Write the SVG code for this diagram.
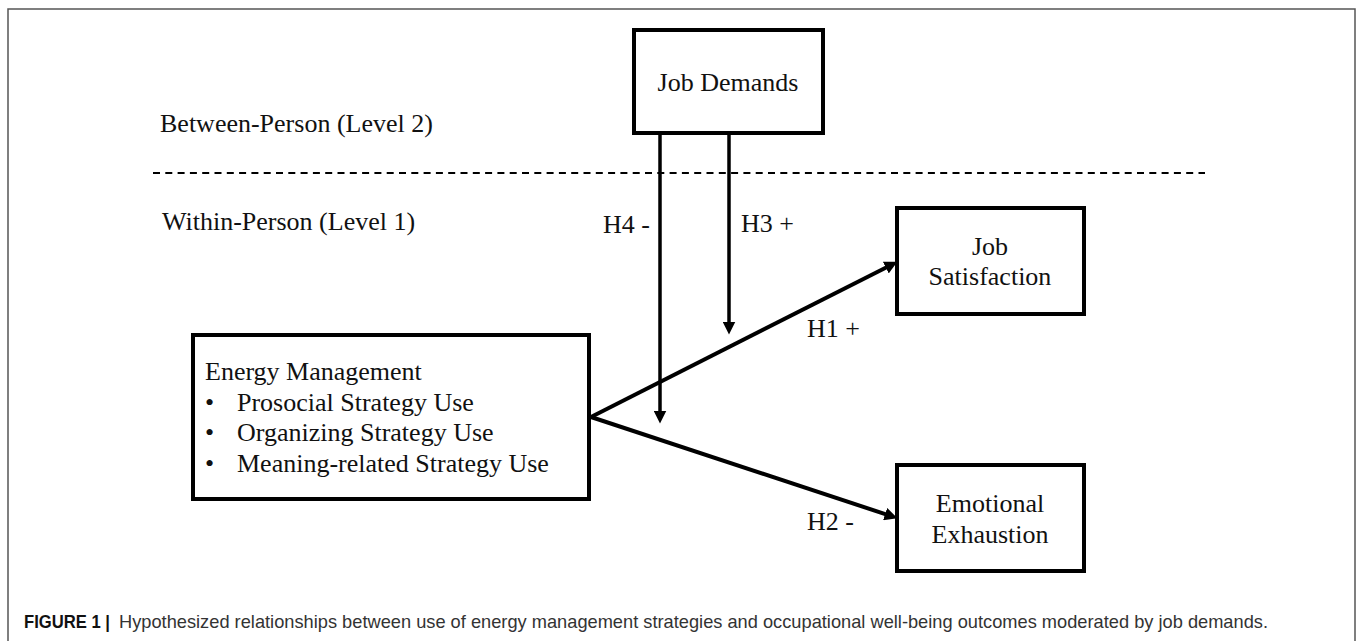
<svg xmlns="http://www.w3.org/2000/svg" width="1357" height="641" viewBox="0 0 1357 641">
  <defs>
    <style>
      .box { fill: #ffffff; stroke: #000000; stroke-width: 4; }
      .lbl { font-family: "Liberation Serif", "Times New Roman", serif; font-size: 26px; fill: #111111; }
      .mid { text-anchor: middle; }
      .conn { stroke: #000000; fill: none; }
      .cap { font-family: "Liberation Sans", Arial, sans-serif; font-size: 19px; fill: #333333; }
      .capb { font-weight: bold; fill: #111111; }
    </style>
    <marker id="arrow" viewBox="0 0 12 12" refX="6" refY="6" markerWidth="13" markerHeight="13" markerUnits="userSpaceOnUse" orient="auto">
      <path d="M0,0 L12,6 L0,12 Z" fill="#000000"/>
    </marker>
  </defs>

  <rect x="0" y="0" width="1357" height="641" fill="#ffffff"/>
  <path d="M8,641 L8,9 L1355,9 L1355,641" fill="none" stroke="#555555" stroke-width="1.5"/>

  <g id="levels">
    <text class="lbl" x="160" y="132">Between-Person (Level 2)</text>
    <line x1="153" y1="173" x2="1205" y2="173" stroke="#000000" stroke-width="2" stroke-dasharray="7 5.3"/>
    <text class="lbl" x="162" y="230">Within-Person (Level 1)</text>
  </g>

  <g id="connectors">
    <line class="conn" x1="660" y1="133" x2="660" y2="417" stroke-width="3.5" marker-end="url(#arrow)"/>
    <line class="conn" x1="729" y1="133" x2="729" y2="328" stroke-width="3.5" marker-end="url(#arrow)"/>
    <line class="conn" x1="591" y1="417" x2="891.6" y2="264.7" stroke-width="4" marker-end="url(#arrow)"/>
    <line class="conn" x1="591" y1="417" x2="891.3" y2="516.1" stroke-width="4" marker-end="url(#arrow)"/>
    <text class="lbl" x="603" y="233">H4 -</text>
    <text class="lbl" x="741" y="232">H3 +</text>
    <text class="lbl" x="807" y="337">H1 +</text>
    <text class="lbl" x="807" y="530">H2 -</text>
  </g>

  <g id="job-demands">
    <rect class="box" x="634" y="30" width="189" height="103"/>
    <text class="lbl mid" x="728" y="91">Job Demands</text>
  </g>

  <g id="job-satisfaction">
    <rect class="box" x="897" y="208" width="187" height="106"/>
    <text class="lbl mid" x="990" y="255">Job</text>
    <text class="lbl mid" x="990" y="285">Satisfaction</text>
  </g>

  <g id="emotional-exhaustion">
    <rect class="box" x="897" y="465" width="187" height="106"/>
    <text class="lbl mid" x="990" y="512">Emotional</text>
    <text class="lbl mid" x="990" y="543">Exhaustion</text>
  </g>

  <g id="energy-management">
    <rect class="box" x="193" y="335" width="396" height="164"/>
    <text class="lbl" x="205" y="380">Energy Management</text>
    <text class="lbl" x="205" y="411">•</text>
    <text class="lbl" x="237" y="411">Prosocial Strategy Use</text>
    <text class="lbl" x="205" y="441">•</text>
    <text class="lbl" x="237" y="441">Organizing Strategy Use</text>
    <text class="lbl" x="205" y="472">•</text>
    <text class="lbl" x="237" y="472">Meaning-related Strategy Use</text>
  </g>

  <g id="caption">
    <text class="cap capb" x="24" y="628" textLength="86" lengthAdjust="spacingAndGlyphs">FIGURE 1 |</text>
    <text class="cap" x="119" y="628" textLength="1149" lengthAdjust="spacingAndGlyphs">Hypothesized relationships between use of energy management strategies and occupational well-being outcomes moderated by job demands.</text>
  </g>
</svg>
